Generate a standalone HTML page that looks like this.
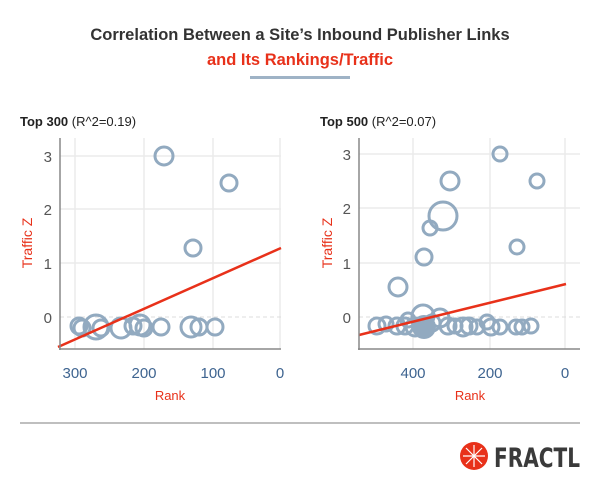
<!DOCTYPE html>
<html><head><style>
body{margin:0;width:600px;height:487px;background:#fff;font-family:"Liberation Sans",sans-serif;overflow:hidden}
</style></head><body>
<svg width="600" height="487" xmlns="http://www.w3.org/2000/svg" font-family="Liberation Sans, sans-serif">
<text x="300" y="40" text-anchor="middle" font-size="16.5" font-weight="bold" fill="#333">Correlation Between a Site’s Inbound Publisher Links</text>
<text x="300" y="65" text-anchor="middle" font-size="16.5" font-weight="bold" fill="#e8311a">and Its Rankings/Traffic</text>
<rect x="250" y="76" width="100" height="3" fill="#9fb3c6"/>

<text x="20" y="126" font-size="13" fill="#222"><tspan font-weight="bold">Top 300</tspan> (R^2=0.19)</text>
<text x="320" y="126" font-size="13" fill="#222"><tspan font-weight="bold">Top 500</tspan> (R^2=0.07)</text>

<g stroke="#ebebeb" stroke-width="1.5">
<line x1="60" y1="156" x2="281" y2="156"/><line x1="60" y1="209" x2="281" y2="209"/><line x1="60" y1="263" x2="281" y2="263"/>
<line x1="75" y1="138" x2="75" y2="349"/><line x1="144" y1="138" x2="144" y2="349"/><line x1="213" y1="138" x2="213" y2="349"/><line x1="280" y1="138" x2="280" y2="349"/>
</g>
<line x1="60" y1="317" x2="281" y2="317" stroke="#ddd" stroke-dasharray="4,3"/>
<g fill="none" stroke="#92aac0" stroke-width="3">
<circle cx="164" cy="156" r="9"/><circle cx="229" cy="183" r="8"/><circle cx="193" cy="248" r="8"/>
<circle cx="79" cy="326" r="8"/><circle cx="82" cy="328" r="8"/><circle cx="96" cy="327" r="12"/><circle cx="101" cy="328" r="8"/>
<circle cx="121" cy="328" r="10"/><circle cx="133" cy="326" r="8"/><circle cx="140" cy="325" r="10"/><circle cx="144" cy="328" r="8"/>
<circle cx="161" cy="327" r="8"/><circle cx="191" cy="327" r="10"/><circle cx="199" cy="327" r="8"/><circle cx="215" cy="327" r="8"/>
</g>
<line x1="58" y1="347" x2="281" y2="248" stroke="#e8311a" stroke-width="2.5"/>
<line x1="60" y1="138" x2="60" y2="350" stroke="#888" stroke-width="1.5"/>
<line x1="59" y1="349" x2="281" y2="349" stroke="#888" stroke-width="1.5"/>
<g font-size="15" fill="#555" text-anchor="end"><text x="52" y="162">3</text><text x="52" y="215">2</text><text x="52" y="269">1</text><text x="52" y="323">0</text></g>
<g font-size="15" fill="#3e6490" text-anchor="middle"><text x="75" y="378">300</text><text x="144" y="378">200</text><text x="213" y="378">100</text><text x="280" y="378">0</text></g>
<text x="170" y="400" font-size="13" fill="#e8311a" text-anchor="middle">Rank</text>
<text transform="translate(32,243) rotate(-90)" font-size="14" fill="#e8311a" text-anchor="middle">Traffic Z</text>

<g stroke="#ebebeb" stroke-width="1.5">
<line x1="359" y1="154" x2="580" y2="154"/><line x1="359" y1="208" x2="580" y2="208"/><line x1="359" y1="263" x2="580" y2="263"/>
<line x1="413" y1="138" x2="413" y2="349"/><line x1="490" y1="138" x2="490" y2="349"/><line x1="565" y1="138" x2="565" y2="349"/>
</g>
<line x1="359" y1="317" x2="580" y2="317" stroke="#ddd" stroke-dasharray="4,3"/>
<g fill="none" stroke="#92aac0" stroke-width="3">
<circle cx="500" cy="154" r="7"/><circle cx="537" cy="181" r="7"/><circle cx="450" cy="181" r="9"/><circle cx="443" cy="216" r="14"/>
<circle cx="430" cy="228" r="7"/><circle cx="424" cy="257" r="8"/><circle cx="517" cy="247" r="7"/><circle cx="398" cy="287" r="9"/>
<circle cx="377" cy="326" r="8"/><circle cx="386" cy="324" r="7"/><circle cx="397" cy="326" r="8"/><circle cx="405" cy="326" r="8"/>
<circle cx="408" cy="320" r="7"/><circle cx="415" cy="327" r="9"/><circle cx="423" cy="316" r="11"/><circle cx="432" cy="323" r="8"/>
<circle cx="440" cy="318" r="9"/><circle cx="448" cy="326" r="8"/><circle cx="455" cy="326" r="7"/><circle cx="463" cy="327" r="9"/>
<circle cx="469" cy="326" r="8"/><circle cx="477" cy="327" r="7"/><circle cx="487" cy="322" r="7"/><circle cx="491" cy="327" r="8"/>
<circle cx="500" cy="327" r="7"/><circle cx="516" cy="327" r="7"/><circle cx="522" cy="327" r="7"/><circle cx="531" cy="326" r="7"/>
</g>
<circle cx="424" cy="327" r="12" fill="#92aac0"/>
<line x1="359" y1="335" x2="566" y2="284" stroke="#e8311a" stroke-width="2.5"/>
<line x1="359" y1="138" x2="359" y2="350" stroke="#888" stroke-width="1.5"/>
<line x1="358" y1="349" x2="580" y2="349" stroke="#888" stroke-width="1.5"/>
<g font-size="15" fill="#555" text-anchor="end"><text x="351" y="160">3</text><text x="351" y="214">2</text><text x="351" y="269">1</text><text x="351" y="323">0</text></g>
<g font-size="15" fill="#3e6490" text-anchor="middle"><text x="413" y="378">400</text><text x="490" y="378">200</text><text x="565" y="378">0</text></g>
<text x="470" y="400" font-size="13" fill="#e8311a" text-anchor="middle">Rank</text>
<text transform="translate(332,243) rotate(-90)" font-size="14" fill="#e8311a" text-anchor="middle">Traffic Z</text>

<line x1="20" y1="423" x2="580" y2="423" stroke="#aaa" stroke-width="1.5"/>
<circle cx="474" cy="456" r="14" fill="#e8311a"/>
<g stroke="#fff" stroke-width="1.2"><line x1="474" y1="445" x2="474" y2="467"/><line x1="463" y1="456" x2="485" y2="456"/><line x1="466" y1="448" x2="482" y2="464"/><line x1="482" y1="448" x2="466" y2="464"/></g>
<text x="494" y="467" font-size="27" font-weight="bold" fill="#3a3a3a" font-family="DejaVu Sans Condensed, Liberation Sans Narrow, sans-serif" textLength="86" lengthAdjust="spacingAndGlyphs">FRACTL</text>
</svg>
</body></html>
